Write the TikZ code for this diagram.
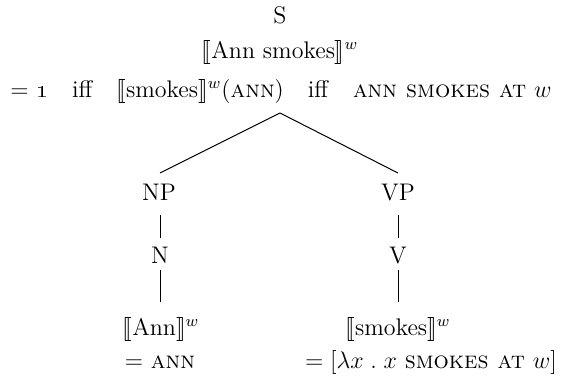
\documentclass[tikz,border=0pt]{standalone}
\usepackage{stmaryrd}
\usetikzlibrary{calc}
% denotation brackets with world superscript
\newcommand{\denot}[1]{\ensuremath{\llbracket\mbox{#1}\rrbracket^{w}}}
\begin{document}
\begin{tikzpicture}[x=0.5pt,y=-0.5pt,
  lbl/.style={inner sep=0pt,anchor=base,font=\fontsize{12}{14}\selectfont},
  edge/.style={line width=0.5pt}]
\useasboundingbox (0,0) rectangle (563,376);

% root and its computation
\node[lbl] (S)  at (280,23) {S};
\node[lbl] (L2) at (280,58) {\denot{Ann smokes}};
\node[lbl] (L3) at (281,97) {$=$ \oldstylenums{1}\quad iff\quad \denot{smokes}(\textsc{ann})\quad iff\quad \textsc{ann smokes at} $w$};

% phrase level
\node[lbl] (NP) at (159,200) {NP};
\node[lbl] (VP) at (398,200) {VP};
\node[lbl] (N)  at (160,263) {N};
\node[lbl] (V)  at (398,263) {V};

% lexical denotations
\node[lbl] (ann)  at (161,335) {\denot{Ann}};
\node[lbl] (smk)  at (398,335) {\denot{smokes}};
\node[lbl] (annv) at (160,368) {$=$ \textsc{ann}};
\node[lbl] (smkv) at (431,368) {$=[\lambda x\;.\;x$ \textsc{smokes at} $w]$};

% tree edges
\draw[edge] ($(L3.base)+(-1,16)$) -- ($(NP.base)+(1,-27)$);
\draw[edge] ($(L3.base)+(-1,16)$) -- ($(VP.base)+(0,-27)$);
\draw[edge] ($(NP.base)+(1,15)$) -- ($(N.base)+(0,-25)$);
\draw[edge] ($(VP.base)+(0,15)$) -- ($(V.base)+(0,-25)$);
\draw[edge] ($(N.base)+(0,7)$) -- ($(ann.base)+(-1,-33)$);
\draw[edge] ($(V.base)+(0,7)$) -- ($(smk.base)+(0,-33)$);
\end{tikzpicture}
\end{document}
